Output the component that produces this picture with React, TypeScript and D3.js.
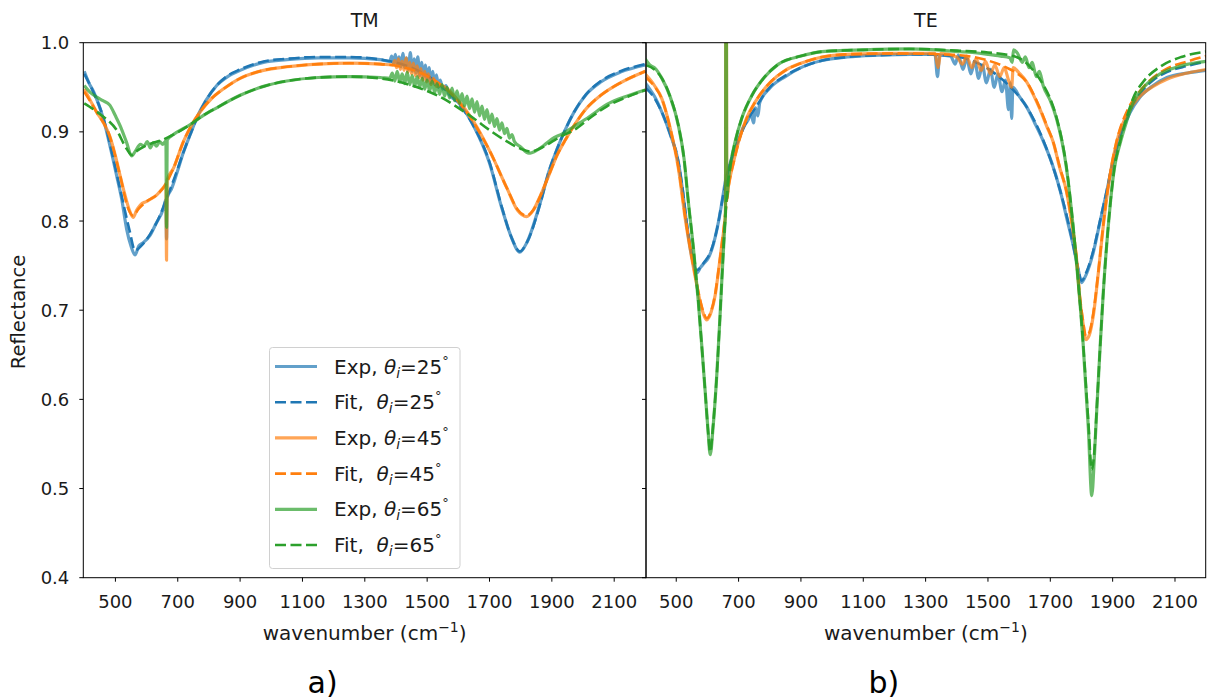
import React from 'react';
import * as d3 from 'd3';

type P = [number, number];

// ---------- TM panel data ----------
const tmExp25: P[] = [[400,0.968],[415,0.955],[430,0.945],[461,0.915],[490,0.873],[504,0.851],[520,0.825],[536,0.791],[550,0.772],[563,0.762],[575,0.772],[590,0.776],[611,0.784],[630,0.797],[654,0.814],[662,0.824],[664,0.78],[666,0.826],[680,0.836],[700,0.857],[718,0.877],[740,0.897],[760,0.915],[790,0.935],[825,0.952],[860,0.962],[900,0.969],[975,0.978],[1050,0.981],[1150,0.983],[1250,0.983],[1350,0.981],[1380,0.979],[1386,0.985],[1392,0.976],[1398,0.987],[1404,0.975],[1410,0.984],[1416,0.973],[1422,0.988],[1428,0.972],[1434,0.983],[1440,0.970],[1446,0.989],[1452,0.968],[1458,0.982],[1464,0.966],[1470,0.984],[1476,0.963],[1482,0.978],[1488,0.961],[1494,0.975],[1500,0.958],[1506,0.972],[1512,0.955],[1518,0.968],[1524,0.953],[1530,0.964],[1536,0.950],[1542,0.958],[1550,0.948],[1560,0.952],[1570,0.942],[1600,0.933],[1650,0.906],[1700,0.865],[1740,0.814],[1770,0.782],[1797,0.765],[1820,0.776],[1864,0.822],[1890,0.855],[1917,0.881],[1945,0.904],[1971,0.922],[2010,0.942],[2057,0.956],[2120,0.967],[2200,0.975]];
const tmFit25: P[] = [[400,0.965],[430,0.944],[461,0.916],[490,0.875],[520,0.828],[545,0.79],[563,0.767],[585,0.773],[611,0.785],[640,0.804],[665,0.826],[690,0.849],[718,0.877],[740,0.897],[760,0.914],[790,0.935],[825,0.952],[860,0.963],[900,0.970],[975,0.979],[1050,0.982],[1150,0.984],[1250,0.984],[1350,0.981],[1450,0.972],[1500,0.963],[1550,0.950],[1600,0.932],[1650,0.906],[1700,0.866],[1740,0.815],[1770,0.782],[1797,0.766],[1820,0.776],[1864,0.821],[1890,0.855],[1917,0.881],[1945,0.904],[1971,0.922],[2010,0.942],[2057,0.957],[2120,0.968],[2200,0.976]];
const tmExp45: P[] = [[400,0.948],[420,0.935],[440,0.922],[462,0.91],[482,0.895],[500,0.873],[515,0.851],[530,0.83],[545,0.812],[557,0.804],[568,0.812],[580,0.818],[600,0.822],[615,0.825],[632,0.829],[645,0.834],[659,0.840],[662,0.842],[664,0.756],[666,0.846],[686,0.859],[718,0.889],[745,0.908],[771,0.922],[810,0.938],[846,0.948],[900,0.960],[975,0.969],[1050,0.973],[1150,0.976],[1250,0.977],[1350,0.976],[1390,0.975],[1396,0.980],[1402,0.972],[1408,0.982],[1414,0.970],[1420,0.979],[1426,0.969],[1432,0.983],[1438,0.967],[1444,0.978],[1450,0.965],[1456,0.977],[1462,0.963],[1468,0.974],[1474,0.961],[1480,0.971],[1486,0.958],[1492,0.968],[1498,0.956],[1504,0.965],[1512,0.953],[1520,0.960],[1530,0.951],[1543,0.952],[1600,0.935],[1650,0.911],[1703,0.877],[1757,0.836],[1790,0.812],[1819,0.805],[1840,0.812],[1864,0.829],[1890,0.851],[1917,0.874],[1945,0.892],[1971,0.907],[2010,0.926],[2057,0.941],[2120,0.955],[2200,0.968]];
const tmFit45: P[] = [[400,0.945],[440,0.922],[482,0.895],[515,0.851],[540,0.815],[557,0.806],[575,0.814],[600,0.822],[632,0.829],[659,0.840],[686,0.859],[718,0.889],[745,0.908],[771,0.922],[810,0.938],[846,0.948],[900,0.960],[975,0.969],[1050,0.973],[1150,0.976],[1250,0.977],[1350,0.976],[1450,0.970],[1543,0.953],[1600,0.934],[1650,0.910],[1703,0.877],[1757,0.836],[1790,0.813],[1819,0.806],[1840,0.812],[1864,0.829],[1890,0.851],[1917,0.874],[1945,0.892],[1971,0.907],[2010,0.926],[2057,0.941],[2120,0.955],[2200,0.968]];
const tmExp65: P[] = [[400,0.952],[420,0.944],[440,0.939],[460,0.935],[482,0.930],[500,0.918],[515,0.907],[536,0.888],[552,0.873],[565,0.879],[580,0.886],[592,0.884],[602,0.889],[612,0.882],[622,0.888],[632,0.884],[642,0.889],[652,0.886],[662,0.89],[664,0.793],[666,0.891],[686,0.897],[739,0.908],[780,0.918],[825,0.927],[900,0.941],[975,0.951],[1050,0.957],[1150,0.961],[1250,0.962],[1350,0.961],[1380,0.960],[1388,0.966],[1396,0.957],[1404,0.968],[1412,0.956],[1420,0.965],[1428,0.954],[1436,0.967],[1444,0.953],[1452,0.963],[1460,0.951],[1468,0.962],[1476,0.950],[1484,0.960],[1492,0.948],[1500,0.958],[1508,0.946],[1516,0.957],[1524,0.944],[1532,0.954],[1540,0.942],[1548,0.953],[1556,0.940],[1564,0.950],[1572,0.938],[1580,0.949],[1588,0.935],[1596,0.946],[1604,0.932],[1612,0.943],[1620,0.929],[1628,0.940],[1636,0.926],[1644,0.937],[1652,0.922],[1660,0.934],[1668,0.918],[1676,0.929],[1684,0.914],[1692,0.925],[1700,0.910],[1708,0.920],[1716,0.906],[1724,0.915],[1732,0.902],[1740,0.910],[1748,0.898],[1756,0.904],[1764,0.893],[1772,0.897],[1780,0.889],[1800,0.883],[1826,0.876],[1850,0.879],[1875,0.885],[1900,0.892],[1935,0.898],[1971,0.906],[2020,0.917],[2078,0.931],[2140,0.94],[2200,0.947]];
const tmFit65: P[] = [[400,0.932],[450,0.920],[504,0.902],[536,0.881],[552,0.874],[570,0.879],[589,0.883],[615,0.887],[643,0.890],[686,0.897],[739,0.908],[780,0.918],[825,0.927],[900,0.941],[975,0.951],[1050,0.957],[1150,0.961],[1250,0.962],[1350,0.960],[1450,0.952],[1543,0.939],[1600,0.927],[1650,0.915],[1700,0.902],[1757,0.889],[1800,0.881],[1832,0.878],[1860,0.881],[1896,0.888],[1930,0.895],[1971,0.902],[2020,0.915],[2078,0.929],[2140,0.939],[2200,0.947]];

// ---------- TE panel data ----------
const teExp25: P[] = [[400,0.955],[415,0.948],[430,0.94],[454,0.922],[480,0.898],[507,0.866],[520,0.835],[534,0.795],[550,0.76],[566,0.742],[578,0.748],[590,0.753],[602,0.758],[614,0.768],[625,0.782],[636,0.80],[647,0.822],[658,0.845],[668,0.859],[685,0.877],[700,0.891],[715,0.905],[730,0.913],[740,0.92],[748,0.91],[754,0.927],[762,0.918],[768,0.933],[800,0.949],[850,0.962],[900,0.972],[968,0.980],[1050,0.984],[1150,0.986],[1250,0.987],[1330,0.987],[1338,0.962],[1345,0.986],[1380,0.985],[1395,0.976],[1405,0.986],[1420,0.97],[1432,0.983],[1445,0.965],[1458,0.979],[1470,0.96],[1482,0.975],[1495,0.955],[1508,0.97],[1520,0.95],[1532,0.965],[1545,0.945],[1556,0.958],[1566,0.925],[1572,0.955],[1576,0.915],[1580,0.95],[1600,0.94],[1624,0.928],[1650,0.91],[1677,0.89],[1705,0.865],[1731,0.835],[1755,0.8],[1774,0.772],[1790,0.745],[1800,0.731],[1815,0.740],[1838,0.765],[1860,0.80],[1881,0.833],[1900,0.865],[1924,0.895],[1955,0.921],[1988,0.939],[2030,0.952],[2074,0.961],[2140,0.966],[2200,0.969]];
const teFit25: P[] = [[400,0.950],[430,0.938],[454,0.922],[480,0.898],[507,0.866],[520,0.837],[534,0.797],[550,0.762],[566,0.745],[590,0.754],[614,0.769],[632,0.793],[647,0.822],[668,0.858],[685,0.877],[700,0.891],[725,0.911],[754,0.927],[800,0.950],[850,0.963],[900,0.972],[968,0.980],[1050,0.984],[1150,0.986],[1250,0.987],[1350,0.986],[1409,0.984],[1462,0.978],[1516,0.967],[1570,0.951],[1624,0.928],[1677,0.891],[1731,0.835],[1760,0.795],[1774,0.772],[1790,0.745],[1800,0.733],[1815,0.742],[1838,0.767],[1860,0.801],[1881,0.834],[1900,0.866],[1924,0.897],[1955,0.923],[1988,0.943],[2030,0.958],[2074,0.967],[2140,0.974],[2200,0.979]];
const teExp45: P[] = [[400,0.965],[430,0.952],[454,0.937],[480,0.905],[507,0.859],[530,0.80],[550,0.758],[565,0.73],[577,0.709],[588,0.695],[598,0.689],[605,0.692],[612,0.698],[625,0.717],[636,0.745],[647,0.776],[658,0.81],[659,1.02],[661,1.02],[662,0.825],[668,0.840],[685,0.868],[700,0.889],[725,0.915],[754,0.934],[800,0.955],[850,0.969],[900,0.977],[968,0.984],[1050,0.987],[1200,0.988],[1330,0.988],[1340,0.972],[1348,0.988],[1400,0.984],[1418,0.976],[1432,0.985],[1448,0.972],[1462,0.982],[1478,0.969],[1492,0.979],[1508,0.965],[1522,0.975],[1538,0.962],[1552,0.972],[1566,0.958],[1576,0.95],[1581,0.972],[1600,0.966],[1624,0.956],[1645,0.942],[1666,0.926],[1690,0.905],[1709,0.889],[1730,0.86],[1752,0.833],[1770,0.795],[1784,0.758],[1795,0.712],[1805,0.685],[1814,0.667],[1825,0.672],[1838,0.694],[1855,0.745],[1870,0.795],[1890,0.848],[1913,0.889],[1950,0.922],[1988,0.940],[2030,0.951],[2074,0.959],[2140,0.966],[2200,0.970]];
const teFit45: P[] = [[400,0.962],[430,0.951],[454,0.937],[480,0.905],[507,0.860],[530,0.802],[550,0.760],[565,0.731],[577,0.711],[588,0.697],[598,0.691],[612,0.699],[625,0.718],[636,0.746],[647,0.776],[658,0.810],[668,0.839],[685,0.867],[700,0.888],[725,0.914],[754,0.934],[800,0.955],[850,0.969],[900,0.977],[968,0.984],[1050,0.987],[1200,0.988],[1350,0.987],[1409,0.986],[1500,0.980],[1560,0.972],[1600,0.964],[1624,0.956],[1645,0.943],[1666,0.927],[1690,0.906],[1709,0.889],[1730,0.861],[1752,0.833],[1770,0.797],[1784,0.760],[1795,0.715],[1805,0.688],[1814,0.671],[1825,0.675],[1838,0.697],[1855,0.746],[1870,0.796],[1890,0.849],[1913,0.890],[1950,0.926],[1988,0.946],[2030,0.961],[2074,0.971],[2140,0.979],[2200,0.985]];
const teExp65: P[] = [[400,0.982],[415,0.975],[430,0.972],[454,0.960],[480,0.94],[507,0.907],[525,0.87],[539,0.821],[555,0.77],[571,0.709],[583,0.655],[593,0.608],[602,0.565],[609,0.538],[618,0.568],[630,0.627],[640,0.69],[647,0.739],[655,0.79],[658,0.81],[659,1.02],[661,1.02],[662,0.825],[668,0.848],[675,0.866],[689,0.889],[710,0.915],[743,0.941],[780,0.96],[828,0.976],[900,0.985],[968,0.990],[1100,0.992],[1250,0.993],[1409,0.990],[1450,0.989],[1500,0.987],[1540,0.985],[1570,0.983],[1578,0.978],[1582,0.992],[1595,0.988],[1610,0.978],[1620,0.984],[1632,0.972],[1642,0.978],[1655,0.962],[1665,0.968],[1677,0.952],[1700,0.935],[1720,0.915],[1752,0.859],[1774,0.791],[1790,0.73],[1805,0.664],[1822,0.568],[1833,0.492],[1842,0.54],[1849,0.588],[1860,0.66],[1870,0.720],[1891,0.814],[1905,0.858],[1924,0.887],[1945,0.912],[1966,0.933],[2000,0.950],[2052,0.965],[2120,0.974],[2200,0.979]];
const teFit65: P[] = [[400,0.975],[430,0.970],[454,0.960],[480,0.94],[507,0.907],[525,0.87],[539,0.821],[555,0.77],[571,0.709],[583,0.655],[593,0.608],[602,0.565],[609,0.541],[618,0.57],[630,0.627],[640,0.69],[647,0.739],[655,0.79],[663,0.833],[675,0.865],[689,0.889],[710,0.915],[743,0.941],[780,0.96],[828,0.976],[900,0.985],[968,0.990],[1100,0.992],[1250,0.993],[1409,0.991],[1500,0.989],[1581,0.985],[1624,0.977],[1650,0.967],[1677,0.953],[1700,0.937],[1720,0.916],[1752,0.86],[1774,0.792],[1790,0.73],[1805,0.664],[1822,0.575],[1833,0.521],[1842,0.545],[1849,0.590],[1860,0.66],[1870,0.720],[1891,0.814],[1905,0.858],[1924,0.889],[1945,0.916],[1966,0.938],[2000,0.957],[2052,0.973],[2120,0.984],[2200,0.990]];

const xTicks = [500, 700, 900, 1100, 1300, 1500, 1700, 1900, 2100];
const yTicks = [0.4, 0.5, 0.6, 0.7, 0.8, 0.9, 1.0];
const angles = ['25', '45', '65'];
const colors = ['#1f77b4', '#ff7f0e', '#2ca02c'];
const panelTitles = ['TM', 'TE'];
const panelTags = ['a)', 'b)'];

const FONT = '"DejaVu Sans", sans-serif';
const TOP = 42.7;
const BOTTOM = 577.7;
const EXP_W = 3.2;
const FIT_W = 2.6;
const DASH = '11,4.5';

interface PanelProps {
  id: string;
  left: number;
  right: number;
  domain: [number, number];
  exps: P[][];
  fits: P[][];
  showYLabels: boolean;
  title: string;
  tag: string;
}

function Panel({ id, left, right, domain, exps, fits, showYLabels, title, tag }: PanelProps) {
  const x = d3.scaleLinear().domain(domain).range([left, right]);
  const y = d3.scaleLinear().domain([0.4, 1.0]).range([BOTTOM, TOP]);
  const line = d3.line<P>().x(d => x(d[0])).y(d => y(d[1])).curve(d3.curveMonotoneX);
  const cx = (left + right) / 2;
  return (
    <g>
      <defs>
        <clipPath id={id}>
          <rect x={left} y={TOP} width={right - left} height={BOTTOM - TOP} />
        </clipPath>
      </defs>
      <g clipPath={`url(#${id})`}>
        {exps.map((d, i) => (
          <g key={i}>
            <path d={line(d) || ''} fill="none" stroke={colors[i]} strokeOpacity={0.7} strokeWidth={EXP_W} strokeLinejoin="round" />
            <path d={line(fits[i]) || ''} fill="none" stroke={colors[i]} strokeWidth={FIT_W} strokeDasharray={DASH} />
          </g>
        ))}
      </g>
      <rect x={left} y={TOP} width={right - left} height={BOTTOM - TOP} fill="none" stroke="#000" strokeWidth={1} />
      {xTicks.map(t => (
        <g key={t}>
          <line x1={x(t)} x2={x(t)} y1={BOTTOM} y2={BOTTOM + 4} stroke="#000" strokeWidth={1} />
          <text x={x(t)} y={BOTTOM + 30.5} textAnchor="middle" fontSize={18} fontFamily={FONT} fill="#1a1a1a">{t}</text>
        </g>
      ))}
      {yTicks.map(t => (
        <g key={t}>
          <line x1={left - 4} x2={left} y1={y(t)} y2={y(t)} stroke="#000" strokeWidth={1} />
          {showYLabels && (
            <text x={left - 14} y={y(t) + 6.5} textAnchor="end" fontSize={18} fontFamily={FONT} fill="#1a1a1a">{t.toFixed(1)}</text>
          )}
        </g>
      ))}
      <text x={cx} y={27} textAnchor="middle" fontSize={19} fontFamily={FONT} fill="#1a1a1a">{title}</text>
      <text x={cx} y={640} textAnchor="middle" fontSize={20} fontFamily={FONT} fill="#1a1a1a">
        wavenumber (cm<tspan fontSize={14} dy={-8}>−1</tspan><tspan dy={8}>)</tspan>
      </text>
      <text x={cx - 42} y={693} textAnchor="middle" fontSize={30} fontFamily={FONT} fill="#000">{tag}</text>
    </g>
  );
}

function Legend() {
  const x0 = 269.5, y0 = 347.5, w = 190.5, h = 221;
  const rows: { label: string; color: string; dashed: boolean; angle: string }[] = [];
  angles.forEach((a, i) => {
    rows.push({ label: 'Exp, ', color: colors[i], dashed: false, angle: a });
    rows.push({ label: 'Fit,\u00a0\u00a0', color: colors[i], dashed: true, angle: a });
  });
  return (
    <g>
      <rect x={x0} y={y0} width={w} height={h} rx={3} fill="#fff" fillOpacity={0.8} stroke="#d0d0d0" strokeWidth={1} />
      {rows.map((r, k) => {
        const yy = 366.5 + k * 35.7;
        return (
          <g key={k}>
            <line x1={275} x2={317} y1={yy} y2={yy} stroke={r.color} strokeWidth={r.dashed ? FIT_W : EXP_W}
              strokeOpacity={r.dashed ? 1 : 0.7} strokeDasharray={r.dashed ? DASH : undefined} />
            <text x={334} y={yy + 7} fontSize={20} fontFamily={FONT} fill="#1a1a1a">
              {r.label}
              <tspan fontStyle="italic">θ</tspan>
              <tspan fontStyle="italic" fontSize={14} dy={4}>i</tspan>
              <tspan dy={-4}>={r.angle}</tspan>
              <tspan fontSize={13} dy={-9}>°</tspan>
            </text>
          </g>
        );
      })}
    </g>
  );
}

export default function App() {
  return (
    <svg width={1211} height={700} style={{ position: 'absolute', left: 0, top: 0, background: '#fff' }}>
      <rect x={0} y={0} width={1211} height={700} fill="#fff" />
      <Panel id="clipTM" left={83.3} right={646} domain={[397, 2202]} exps={[tmExp25, tmExp45, tmExp65]}
        fits={[tmFit25, tmFit45, tmFit65]} showYLabels title={panelTitles[0]} tag={panelTags[0]} />
      <Panel id="clipTE" left={646} right={1205.7} domain={[403, 2198.5]} exps={[teExp25, teExp45, teExp65]}
        fits={[teFit25, teFit45, teFit65]} showYLabels={false} title={panelTitles[1]} tag={panelTags[1]} />
      <text transform="translate(25,312) rotate(-90)" textAnchor="middle" fontSize={19.5} fontFamily={FONT} fill="#1a1a1a">Reflectance</text>
      <Legend />
    </svg>
  );
}
